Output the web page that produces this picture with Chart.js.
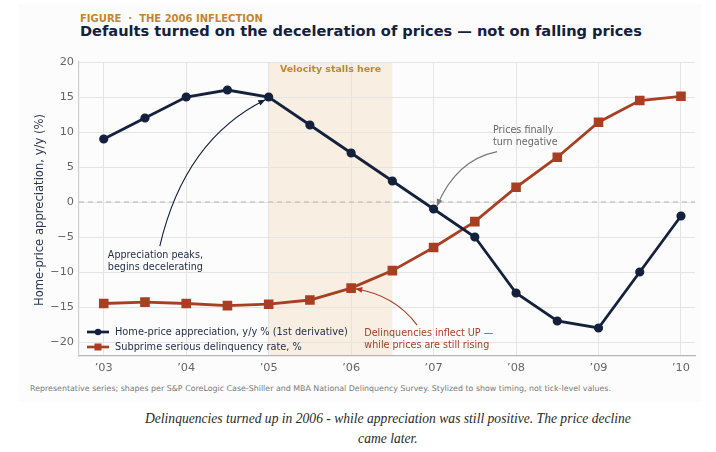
<!DOCTYPE html>
<html>
<head>
<meta charset="utf-8">
<script src="https://cdn.jsdelivr.net/npm/chart.js@4"></script>
<style>
  html, body { margin: 0; padding: 0; background: #ffffff; }
  #wrap { position: relative; width: 716px; height: 452px; overflow: hidden; font-family: "DejaVu Sans", sans-serif; }
  #card { position: absolute; left: 18px; top: 4px; width: 684px; height: 398px; background: #fcfcfc; }
  #kicker { position: absolute; left: 80px; top: 13px; font-size: 10px; font-weight: bold; color: #c4862c; white-space: nowrap; }
  #title { position: absolute; left: 80px; top: 22px; font-size: 14.6px; font-weight: bold; color: #14213d; white-space: nowrap; }
  #chart { position: absolute; left: 0; top: 0; }
  #note { position: absolute; left: 30px; top: 384px; font-size: 7.9px; color: #7a7a7a; white-space: nowrap; }
  #caption { position: absolute; left: 58px; width: 660px; top: 409px; text-align: center; font-family: "Liberation Serif", serif; font-style: italic; font-size: 15px; line-height: 19.5px; color: #2a2a2a; transform: scaleX(0.905); transform-origin: 329px 0; }
</style>
</head>
<body>
<div id="wrap">
  <div id="card"></div>
  <div id="kicker">FIGURE &nbsp;·&nbsp; THE 2006 INFLECTION</div>
  <div id="title">Defaults turned on the deceleration of prices — not on falling prices</div>
  <canvas id="chart" width="716" height="380" style="width:716px;height:380px"></canvas>
  <div id="note">Representative series; shapes per S&amp;P CoreLogic Case-Shiller and MBA National Delinquency Survey. Stylized to show timing, not tick-level values.</div>
  <div id="caption">Delinquencies turned up in 2006 - while appreciation was still positive. The price decline<br>came later.</div>
</div>
<script>
// Half-year observations, 2003 to 2010
const periods = [2003, 2003.5, 2004, 2004.5, 2005, 2005.5, 2006, 2006.5, 2007, 2007.5, 2008, 2008.5, 2009, 2009.5, 2010];
const appreciation = [9, 12, 15, 16, 15, 11, 7, 3, -1, -5, -13, -17, -18, -10, -2];
const delinquency = [-14.5, -14.3, -14.5, -14.8, -14.6, -14.0, -12.3, -9.8, -6.5, -2.8, 2.1, 6.4, 11.4, 14.5, 15.1];

// Axis ticks
const tickYears = [2003, 2004, 2005, 2006, 2007, 2008, 2009, 2010];
const tickLabels = ['’03', '’04', '’05', '’06', '’07', '’08', '’09', '’10'];
const yTicks = [-20, -15, -10, -5, 0, 5, 10, 15, 20];

// Shaded window
const stallWindow = [2005, 2006.5];

const NAVY = '#14213d';
const RUST = '#a83f22';
const GOLD = '#c4862c';

// Draws a curved arrow between two data points
function drawArrow(ctx, xs, ys, from, ctrl, to, color) {
  const p0 = [xs.getPixelForValue(from[0]), ys.getPixelForValue(from[1])];
  const c = [xs.getPixelForValue(ctrl[0]), ys.getPixelForValue(ctrl[1])];
  const p1 = [xs.getPixelForValue(to[0]), ys.getPixelForValue(to[1])];
  ctx.save();
  ctx.strokeStyle = color;
  ctx.fillStyle = color;
  ctx.lineWidth = 1.1;
  ctx.beginPath();
  ctx.moveTo(p0[0], p0[1]);
  ctx.quadraticCurveTo(c[0], c[1], p1[0], p1[1]);
  ctx.stroke();
  const ang = Math.atan2(p1[1] - c[1], p1[0] - c[0]);
  const len = 7, half = 3;
  ctx.beginPath();
  ctx.moveTo(p1[0], p1[1]);
  ctx.lineTo(p1[0] - len * Math.cos(ang) + half * Math.sin(ang), p1[1] - len * Math.sin(ang) - half * Math.cos(ang));
  ctx.lineTo(p1[0] - len * Math.cos(ang) - half * Math.sin(ang), p1[1] - len * Math.sin(ang) + half * Math.cos(ang));
  ctx.closePath();
  ctx.fill();
  ctx.restore();
}

function drawLines(ctx, xs, ys, lines, at, color) {
  ctx.save();
  ctx.font = '9.6px "DejaVu Sans"';
  ctx.fillStyle = color;
  ctx.textBaseline = 'middle';
  ctx.textAlign = 'left';
  const x = xs.getPixelForValue(at[0]);
  const y = ys.getPixelForValue(at[1]);
  lines.forEach((t, i) => ctx.fillText(t, x, y + i * 11.8));
  ctx.restore();
}

const decorPlugin = {
  id: 'decor',
  beforeDraw(chart) {
    const { ctx, chartArea, scales } = chart;
    const x0 = scales.x.getPixelForValue(stallWindow[0]);
    const x1 = scales.x.getPixelForValue(stallWindow[1]);
    ctx.save();
    ctx.fillStyle = '#f8eee2';
    ctx.fillRect(x0, chartArea.top, x1 - x0, chartArea.bottom - chartArea.top);
    ctx.restore();
  },
  beforeDatasetsDraw(chart) {
    const { ctx, chartArea, scales } = chart;
    const y0 = scales.y.getPixelForValue(0);
    ctx.save();
    ctx.strokeStyle = '#b4b4b4';
    ctx.lineWidth = 1;
    ctx.setLineDash([5, 4]);
    ctx.beginPath();
    ctx.moveTo(chartArea.left, y0);
    ctx.lineTo(chartArea.right, y0);
    ctx.stroke();
    ctx.restore();

    // window label
    ctx.save();
    ctx.font = 'bold 9.4px "DejaVu Sans"';
    ctx.fillStyle = GOLD;
    ctx.textAlign = 'center';
    ctx.textBaseline = 'middle';
    const mid = scales.x.getPixelForValue((stallWindow[0] + stallWindow[1]) / 2);
    ctx.fillText('Velocity stalls here', mid, chartArea.top + 8);
    ctx.restore();

    // y-axis title
    ctx.save();
    ctx.translate(40, 210);
    ctx.rotate(-Math.PI / 2);
    ctx.font = '11.6px "DejaVu Sans"';
    ctx.fillStyle = '#2b3450';
    ctx.textAlign = 'center';
    ctx.textBaseline = 'middle';
    ctx.fillText('Home-price appreciation, y/y (%)', 0, 0);
    ctx.restore();
  },
  afterDatasetsDraw(chart) {
    const { ctx, chartArea, scales } = chart;
    const xs = scales.x, ys = scales.y;

    drawArrow(ctx, xs, ys, [2003.68, -6.3], [2003.98, 8.9], [2004.96, 14.6], NAVY);
    drawLines(ctx, xs, ys, ['Appreciation peaks,', 'begins decelerating'], [2003.05, -7.6], '#1f2a44');

    drawArrow(ctx, xs, ys, [2007.77, 7.2], [2007.27, 6.0], [2007.04, -0.6], '#777777');
    drawLines(ctx, xs, ys, ['Prices finally', 'turn negative'], [2007.72, 10.2], '#666666');

    drawArrow(ctx, xs, ys, [2006.8, -17.6], [2006.53, -13.3], [2006.05, -12.4], RUST);
    drawLines(ctx, xs, ys, ['Delinquencies inflect UP —', 'while prices are still rising'], [2006.16, -18.8], RUST);

    // legend, lower left inside the plot
    const items = [
      { label: 'Home-price appreciation, y/y % (1st derivative)', color: NAVY, shape: 'circle' },
      { label: 'Subprime serious delinquency rate, %', color: RUST, shape: 'rect' }
    ];
    ctx.save();
    ctx.font = '9.8px "DejaVu Sans"';
    ctx.textBaseline = 'middle';
    items.forEach((it, i) => {
      const y = chartArea.bottom - 24 + i * 15;
      const lx = chartArea.left + 8;
      ctx.strokeStyle = it.color;
      ctx.fillStyle = it.color;
      ctx.lineWidth = 2.7;
      ctx.beginPath();
      ctx.moveTo(lx, y);
      ctx.lineTo(lx + 22, y);
      ctx.stroke();
      if (it.shape === 'circle') {
        ctx.beginPath();
        ctx.arc(lx + 11, y, 3.2, 0, Math.PI * 2);
        ctx.fill();
      } else {
        ctx.fillRect(lx + 7.5, y - 3.5, 7, 7);
      }
      ctx.fillStyle = '#1f2a44';
      ctx.fillText(it.label, lx + 28, y);
    });
    ctx.restore();
  }
};

const toPoints = (vals) => periods.map((p, i) => ({ x: p, y: vals[i] }));
const minusSign = (v) => String(v).replace('-', '−');

new Chart(document.getElementById('chart').getContext('2d'), {
  type: 'line',
  data: {
    datasets: [{
      label: 'Home-price appreciation, y/y % (1st derivative)',
      data: toPoints(appreciation),
      borderColor: NAVY,
      backgroundColor: NAVY,
      borderWidth: 2.8,
      pointRadius: 3.2,
      pointStyle: 'circle',
      tension: 0
    }, {
      label: 'Subprime serious delinquency rate, %',
      data: toPoints(delinquency),
      borderColor: RUST,
      backgroundColor: RUST,
      borderWidth: 2.8,
      pointRadius: 4.8,
      pointStyle: 'rect',
      tension: 0
    }]
  },
  options: {
    responsive: false,
    animation: false,
    layout: { padding: { left: 0, top: 62, right: 21, bottom: 0 } },
    plugins: {
      legend: { display: false },
      tooltip: { enabled: false }
    },
    scales: {
      x: {
        type: 'linear',
        min: 2002.7,
        max: 2010.17,
        afterBuildTicks: (scale) => { scale.ticks = tickYears.map(v => ({ value: v })); },
        afterFit: (scale) => { scale.height = 24; },
        ticks: {
          callback: (v) => tickLabels[tickYears.indexOf(v)],
          font: { family: 'DejaVu Sans', size: 11.3 },
          color: '#666666',
          padding: 5,
          maxRotation: 0
        },
        grid: { color: '#e4e4e4', lineWidth: 1, drawTicks: false },
        border: { color: '#b5b5b5', width: 1.2 }
      },
      y: {
        min: -22,
        max: 20,
        afterBuildTicks: (scale) => { scale.ticks = yTicks.map(v => ({ value: v })); },
        afterFit: (scale) => { scale.width = 79; },
        ticks: {
          callback: (v) => minusSign(v),
          font: { family: 'DejaVu Sans', size: 11.3 },
          color: '#666666',
          padding: 5
        },
        grid: { color: '#e4e4e4', lineWidth: 1, drawTicks: false },
        border: { color: '#cfcfcf', width: 1.2 }
      }
    }
  },
  plugins: [decorPlugin]
});
</script>
</body>
</html>
